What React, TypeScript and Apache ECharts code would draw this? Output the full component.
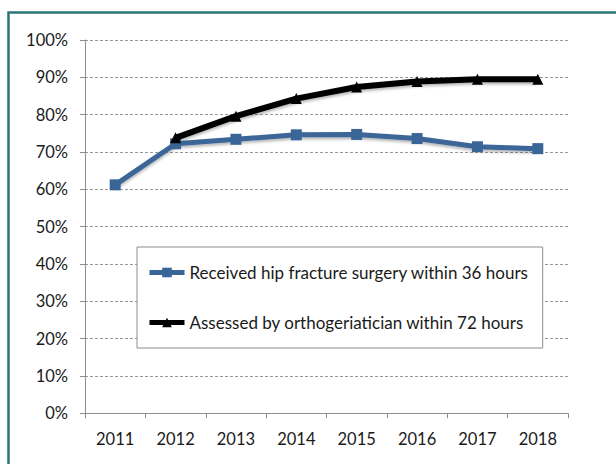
import React, { useEffect, useRef } from "react";
import * as echarts from "echarts";

const years = ["2011", "2012", "2013", "2014", "2015", "2016", "2017", "2018"];
const surgery36h = [61.2, 72.2, 73.4, 74.6, 74.7, 73.6, 71.4, 70.9];
const ortho72h = [null, 73.8, 79.6, 84.3, 87.4, 88.9, 89.5, 89.5];
const seriesNames = [
  "Received hip fracture surgery within 36 hours",
  "Assessed by orthogeriatician within 72 hours",
];

export default function App() {
  const ref = useRef<HTMLDivElement>(null);
  useEffect(() => {
    const chart = echarts.init(ref.current!, null, { renderer: "svg" });
    const font = "Lato";
    chart.setOption({
      animation: false,
      textStyle: { fontFamily: font },
      graphic: [
        {
          type: "rect",
          shape: { x: 8.5, y: 12.5, width: 700, height: 600 },
          style: { fill: "none", stroke: "#2a7876", lineWidth: 2.5 },
          z: 0,
        },
      ],
      grid: { left: 85, right: 48, top: 40, bottom: 50.7, containLabel: false },
      xAxis: {
        type: "category",
        data: years,
        boundaryGap: true,
        axisLine: { lineStyle: { color: "#8c8c8c", width: 1 } },
        axisTick: { show: true, length: 5, lineStyle: { color: "#8c8c8c" } },
        axisLabel: { color: "#1a1a1a", fontSize: 16.5, margin: 17, fontFamily: font },
      },
      yAxis: {
        type: "value",
        min: 0,
        max: 100,
        interval: 10,
        axisLine: { show: true, lineStyle: { color: "#8c8c8c", width: 1 } },
        axisTick: { show: true, length: 5, lineStyle: { color: "#8c8c8c" } },
        axisLabel: {
          color: "#1a1a1a",
          fontSize: 16.5,
          margin: 17,
          fontFamily: font,
          padding: [8, 0, 0, 0],
          formatter: (v: number) => v + "%",
        },
        splitLine: { lineStyle: { color: "#9a9a9a", type: [3, 2], width: 1 } },
      },
      legend: {
        orient: "vertical",
        left: 137,
        top: 247,
        backgroundColor: "#fff",
        borderColor: "#8c8c8c",
        borderWidth: 1,
        padding: [17, 14, 17, 10],
        itemGap: 33,
        itemWidth: 35,
        itemHeight: 12,
        lineStyle: { width: 5 },
        textStyle: { fontSize: 17, color: "#1a1a1a", fontFamily: font },
        data: seriesNames,
      },
      series: [
        {
          name: seriesNames[0],
          type: "line",
          data: surgery36h,
          symbol: "rect",
          symbolSize: 11,
          color: "#3a6697",
          lineStyle: {
            width: 5,
            color: "#3a6697",
            shadowBlur: 3,
            shadowColor: "rgba(0,0,0,0.3)",
            shadowOffsetY: 2,
          },
          itemStyle: { color: "#3a6697" },
          z: 3,
        },
        {
          name: seriesNames[1],
          type: "line",
          data: ortho72h,
          symbol: "triangle",
          symbolSize: 11,
          color: "#000",
          lineStyle: {
            width: 6,
            color: "#000",
            shadowBlur: 3,
            shadowColor: "rgba(0,0,0,0.3)",
            shadowOffsetY: 2,
          },
          itemStyle: { color: "#000" },
          z: 4,
        },
      ],
    });
    return () => chart.dispose();
  }, []);
  return (
    <div
      ref={ref}
      style={{ position: "absolute", left: 0, top: 0, width: 616, height: 464 }}
    />
  );
}
